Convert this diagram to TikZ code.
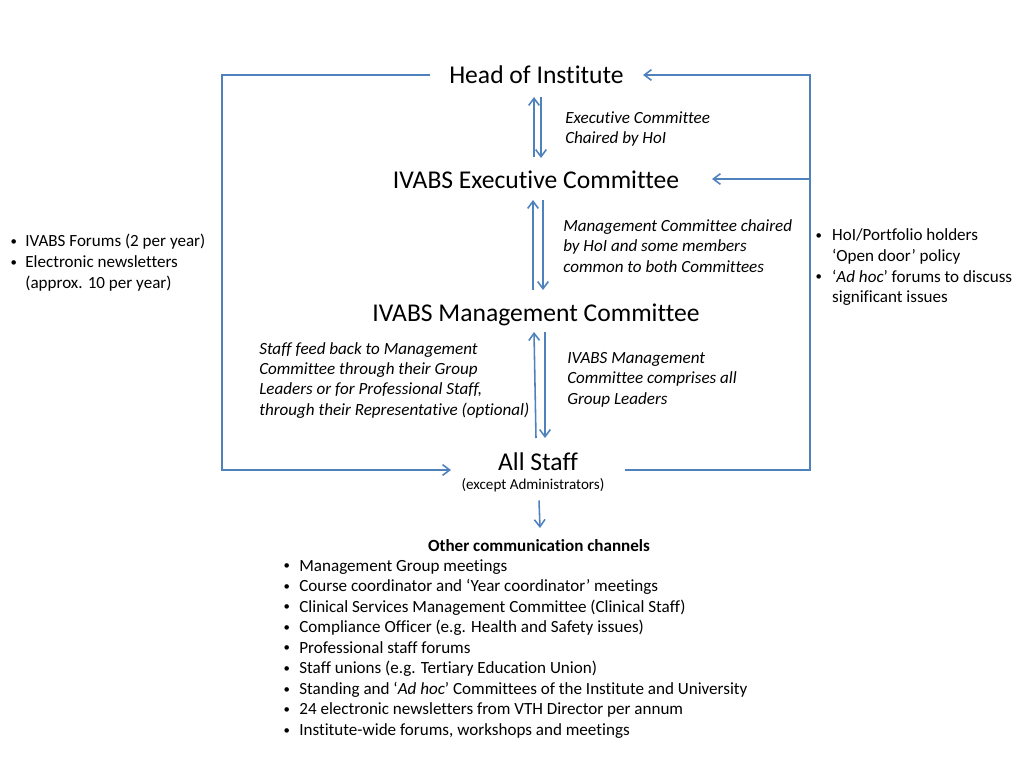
\documentclass[tikz,border=0pt]{standalone}
\usepackage{fontspec}
\setmainfont{Carlito}[Ligatures=NoCommon]
\usetikzlibrary{arrows.meta,calc}
\definecolor{ln}{HTML}{4F81BD}
\newcommand\mybul[1]{\makebox[#1][l]{\hspace*{1pt}\raisebox{0.9pt}{\fontsize{9}{9}\selectfont\textbullet}}}
\begin{document}
\begin{tikzpicture}[x=0.703125pt,y=-0.703125pt,
 conn/.style={draw=ln,line width=1.1pt},
 tip/.style={-{Straight Barb[length=5pt,width=7.5pt]}},
 title/.style={font=\fontsize{18}{21.6}\selectfont,inner sep=0pt,anchor=base},
 lbl/.style={font=\fontsize{12}{14.4}\selectfont\itshape,inner sep=0pt,anchor=base west},
 lst/.style={font=\fontsize{12}{14.45}\selectfont,inner sep=0pt,anchor=base west},
]
\useasboundingbox (0,0) rectangle (1024,768);

% main nodes
\node[title] (hoi) at (536.5,84) {Head of Institute};
\node[title] (exec) at (536,189) {IVABS Executive Committee};
\node[title] (mgmt) at (536,321) {IVABS Management Committee};
\node[title] (staff) at (538,470) {All Staff};
\node[font=\fontsize{10.6}{12}\selectfont,inner sep=0pt,anchor=base] (exc) at (533,489.5) {(except Administrators)};

% italic labels
\node[lbl] (l1) at (565,123.5) {\begin{tabular}[t]{@{}l@{}}Executive Committee\\Chaired by HoI\end{tabular}};
\node[lbl] (l2) at (563,231.5) {\begin{tabular}[t]{@{}l@{}}Management Committee chaired\\by HoI and some members\\common to both Committees\end{tabular}};
\node[lbl] (l3) at (259,354) {\begin{tabular}[t]{@{}l@{}}Staff feed back to Management\\Committee through their Group\\Leaders or for Professional Staff,\\through their Representative (optional)\end{tabular}};
\node[lbl] (l4) at (567,363.5) {\begin{tabular}[t]{@{}l@{}}IVABS Management\\Committee comprises all\\Group Leaders\end{tabular}};

% side lists
\node[lst] (left) at (9,247) {\begin{tabular}[t]{@{}l@{}}\mybul{11.3pt}IVABS Forums (2 per year)\\\mybul{11.3pt}Electronic newsletters\\\hspace*{11.3pt}(approx. 10 per year)\end{tabular}};
\node[lst] (right) at (814,241) {\begin{tabular}[t]{@{}l@{}}\mybul{12.6pt}HoI/Portfolio holders\\\hspace*{12.6pt}‘Open door’ policy\\\mybul{12.6pt}‘\textit{Ad hoc}’ forums to discuss\\\hspace*{12.6pt}significant issues\end{tabular}};

% bottom list
\node[font=\fontsize{12}{14.4}\selectfont\bfseries,inner sep=0pt,anchor=base] (oth) at (539,551) {Other communication channels};
\node[lst] (bot) at (282,571) {\begin{tabular}[t]{@{}l@{}}
\mybul{12pt}Management Group meetings\\
\mybul{12pt}Course coordinator and ‘Year coordinator’ meetings\\
\mybul{12pt}Clinical Services Management Committee (Clinical Staff)\\
\mybul{12pt}Compliance Officer (e.g. Health and Safety issues)\\
\mybul{12pt}Professional staff forums\\
\mybul{12pt}Staff unions (e.g. Tertiary Education Union)\\
\mybul{12pt}Standing and ‘\textit{Ad hoc}’ Committees of the Institute and University\\
\mybul{12pt}24 electronic newsletters from VTH Director per annum\\
\mybul{12pt}Institute-wide forums, workshops and meetings
\end{tabular}};

% loop coordinates
\coordinate (hoiL) at ($(hoi.base)+(-106.5,-9)$);
\coordinate (hoiR) at ($(hoi.base)+(106.5,-9)$);
\coordinate (execR) at ($(exec.base)+(176,-10)$);
\coordinate (stL) at ($(staff.base)+(-87,0)$);
\coordinate (stR) at ($(staff.base)+(87,0)$);
\coordinate (cL) at (222,470);
\coordinate (cR) at (810,470);

\draw[conn,tip] (hoiL) -| (cL) -- (stL);
\draw[conn,tip] (stR) -- (cR) |- (hoiR);
\draw[conn,tip] (cR |- execR) -- (execR);

% vertical double arrows
\draw[conn,tip] ($(exec.base)+(-2,-32)$) -- ($(hoi.base)+(-2.5,13)$);
\draw[conn,tip] ($(hoi.base)+(4.5,13)$) -- ($(exec.base)+(5,-31)$);
\draw[conn,tip] ($(mgmt.base)+(-3,-31)$) -- ($(exec.base)+(-3,11)$);
\draw[conn,tip] ($(exec.base)+(7,11)$) -- ($(mgmt.base)+(7,-31)$);
\draw[conn,tip] ($(staff.base)+(-2,-32)$) -- ($(mgmt.base)+(-2,11)$);
\draw[conn,tip] ($(mgmt.base)+(9,11)$) -- ($(staff.base)+(7,-32)$);
\draw[conn,tip] ($(exc.base)+(6,11)$) -- ($(oth.base)+(1,-23)$);
\end{tikzpicture}
\end{document}
